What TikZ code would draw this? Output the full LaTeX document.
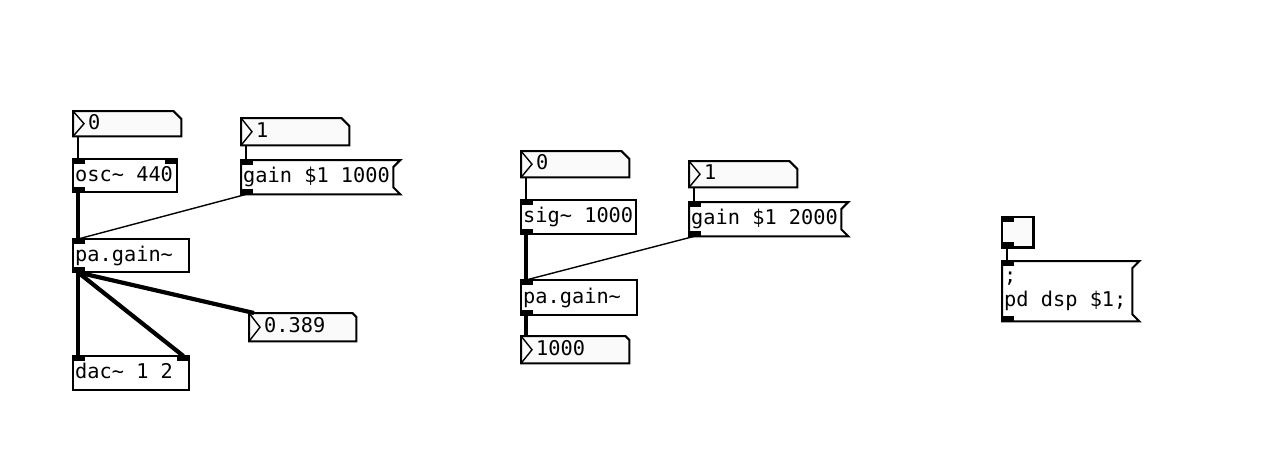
\documentclass[tikz,border=0pt]{standalone}
\usepackage{fontspec}
\newfontfamily\pdfont[WordSpace={1,0,0}]{DejaVu Sans Mono}
\definecolor{atomfill}{RGB}{250,250,250}

\tikzset{
  pdtext/.style={font={\pdfont\fontsize{20.3pt}{24pt}\selectfont},anchor=north west,inner xsep=2pt,inner ysep=0pt,align=left,text height=15pt,text depth=4pt,
    execute at begin node={\spaceskip=0pt\xspaceskip=0pt\relax}},
  objbox/.style={pdtext,
    append after command={\pgfextra{\filldraw[line width=2pt,fill=white] (\tikzlastnode.north west) rectangle (\tikzlastnode.south east);}}},
  tglbox/.style={pdtext,
    append after command={\pgfextra{\filldraw[line width=2.2pt,fill=atomfill] (\tikzlastnode.north west) rectangle (\tikzlastnode.south east);}}},
  atombox/.style={pdtext,
    execute at begin node={\spaceskip=0pt\xspaceskip=0pt\relax\hspace*{13pt}},
    append after command={\pgfextra{\filldraw[line width=2pt,line join=miter,fill=atomfill] (\tikzlastnode.north west) -- ([xshift=-#1]\tikzlastnode.north east) -- ([yshift=-#1]\tikzlastnode.north east) -- (\tikzlastnode.south east) -- (\tikzlastnode.south west) -- cycle;
      \draw[line width=1.4pt] (\tikzlastnode.north west) -- ([xshift=11pt]\tikzlastnode.west) -- (\tikzlastnode.south west);}}},
  msgbox/.style={pdtext,
    append after command={\pgfextra{\filldraw[line width=2pt,line join=miter,fill=white] (\tikzlastnode.north west) -- (\tikzlastnode.north east) -- ([xshift=-7pt,yshift=-7pt]\tikzlastnode.north east) -- ([xshift=-7pt,yshift=7pt]\tikzlastnode.south east) -- (\tikzlastnode.south east) -- (\tikzlastnode.south west) -- cycle;}}},
  inl/.style={append after command={\pgfextra{\fill ([xshift=-1pt,yshift=1pt]\tikzlastnode.north west) rectangle ([xshift=12pt,yshift=-5pt]\tikzlastnode.north west);}}},
  inr/.style={append after command={\pgfextra{\fill ([xshift=1pt,yshift=1pt]\tikzlastnode.north east) rectangle ([xshift=-12pt,yshift=-5pt]\tikzlastnode.north east);}}},
  outl/.style={append after command={\pgfextra{\fill ([xshift=-1pt,yshift=-1pt]\tikzlastnode.south west) rectangle ([xshift=12pt,yshift=5pt]\tikzlastnode.south west);}}},
  cord/.style={line width=1.4pt},
  sigcord/.style={line width=4.2pt}
}

\begin{document}
\begin{tikzpicture}[x=1pt,y=-1pt]
  \path[use as bounding box,fill=white] (0,0) rectangle (1270,464);

  % left patch: osc~ through pa.gain~ to dac~
  \node[atombox=8pt,text width=104pt,minimum height=25pt] (numZeroA) at (73,111) {0};
  \node[objbox,inl,inr,outl,text width=100pt,minimum height=33pt] (oscA) at (73,159) {osc\textasciitilde{} 440};
  \node[atombox=8pt,text width=104pt,minimum height=27pt] (numOneA) at (241,118) {1};
  \node[msgbox,inl,outl,text width=155pt,minimum height=34pt] (msgA) at (241,160) {gain \$1 1000};
  \node[objbox,inl,outl,text width=112pt,minimum height=33pt] (gainA) at (73,239) {pa.gain\textasciitilde};
  \node[atombox=4pt,text width=103pt,minimum height=28pt] (numOutA) at (249,313) {0.389};
  \node[objbox,inl,inr,text width=112pt,minimum height=34pt] (dacA) at (73,356) {dac\textasciitilde{} 1 2};

  \draw[cord] ([xshift=5pt]numZeroA.south west) -- ([xshift=5pt]oscA.north west);
  \draw[sigcord] ([xshift=5pt]oscA.south west) -- ([xshift=5pt]gainA.north west);
  \draw[cord] ([xshift=5pt]numOneA.south west) -- ([xshift=5pt]msgA.north west);
  \draw[cord] ([xshift=5pt]msgA.south west) -- ([xshift=5pt]gainA.north west);
  \draw[sigcord] ([xshift=5pt]gainA.south west) -- ([xshift=5pt]dacA.north west);
  \draw[sigcord] ([xshift=5pt]gainA.south west) -- ([xshift=-6pt]dacA.north east);
  \draw[sigcord] ([xshift=5pt]gainA.south west) -- ([xshift=5pt]numOutA.north west);

  % middle patch: sig~ through pa.gain~
  \node[atombox=8pt,text width=104pt,minimum height=26pt] (numZeroB) at (521,151) {0};
  \node[objbox,inl,outl,text width=111pt,minimum height=34pt] (sigB) at (521,200) {sig\textasciitilde{} 1000};
  \node[atombox=8pt,text width=104pt,minimum height=26pt] (numOneB) at (689,161) {1};
  \node[msgbox,inl,outl,text width=155pt,minimum height=34pt] (msgB) at (689,202) {gain \$1 2000};
  \node[objbox,inl,outl,text width=112pt,minimum height=35pt] (gainB) at (521,280) {pa.gain\textasciitilde};
  \node[atombox=4pt,text width=104pt,minimum height=27pt] (numOutB) at (521,336) {1000};

  \draw[cord] ([xshift=5pt]numZeroB.south west) -- ([xshift=5pt]sigB.north west);
  \draw[sigcord] ([xshift=5pt]sigB.south west) -- ([xshift=5pt]gainB.north west);
  \draw[cord] ([xshift=5pt]numOneB.south west) -- ([xshift=5pt]msgB.north west);
  \draw[cord] ([xshift=5pt]msgB.south west) -- ([xshift=5pt]gainB.north west);
  \draw[sigcord] ([xshift=5pt]gainB.south west) -- ([xshift=5pt]numOutB.north west);

  % dsp switch
  \node[tglbox,inl,outl,text width=27pt,minimum height=30pt] (dspTgl) at (1002,217) {};
  \node[msgbox,inl,outl,text width=133pt,minimum height=60pt,text height=,text depth=] (msgDsp) at (1002,261) {;\\pd dsp \$1;};

  \draw[cord] ([xshift=5pt]dspTgl.south west) -- ([xshift=5pt]msgDsp.north west);
\end{tikzpicture}
\end{document}
